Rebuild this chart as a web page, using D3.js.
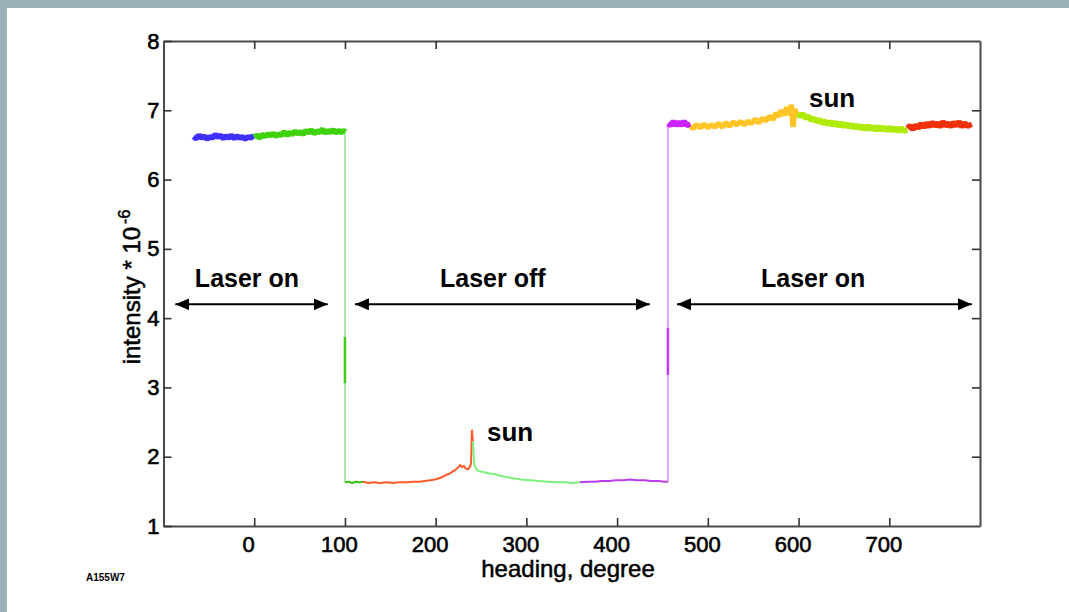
<!DOCTYPE html>
<html>
<head>
<meta charset="utf-8">
<script src="https://cdn.jsdelivr.net/npm/d3@7"></script>
<style>
  body { margin: 0; background: #fff; }
  svg { display: block; }
</style>
</head>
<body>
<div id="chart"></div>
<script>
const headingTicks = [0, 100, 200, 300, 400, 500, 600, 700];
const topHeadingTicks = [0, 100, 200, 500, 600, 700];
const intensityTicks = [1, 2, 3, 4, 5, 6, 7, 8];
const rightIntensityTicks = [2, 3, 4, 5, 6, 7];

// laser on, first part (heading, intensity)
const blueTrace = [[-67,6.62],[-64,6.59],[-61,6.64],[-58,6.60],[-55,6.63],[-52,6.58],[-49,6.62],[-46,6.60],[-43,6.65],[-40,6.61],[-37,6.64],[-34,6.59],[-31,6.63],[-28,6.60],[-25,6.64],[-22,6.59],[-19,6.63],[-16,6.60],[-13,6.62],[-10,6.58],[-7,6.62],[-4,6.60],[-1,6.63],[0,6.61]];
const greenTrace = [[0,6.61],[3,6.64],[6,6.60],[9,6.65],[12,6.62],[15,6.66],[18,6.63],[21,6.67],[24,6.62],[27,6.66],[30,6.64],[33,6.69],[36,6.64],[39,6.68],[42,6.65],[45,6.70],[48,6.66],[51,6.69],[54,6.65],[57,6.71],[60,6.67],[63,6.72],[66,6.66],[69,6.70],[72,6.68],[75,6.73],[78,6.67],[81,6.71],[84,6.68],[87,6.72],[90,6.67],[93,6.71],[96,6.68],[99,6.71],[100,6.69]];
const dropTrace = [[100,6.69],[100,1.63]];
const dropMark = [[100,3.73],[100,3.06]];

// laser off
const offGreenTrace = [[100,1.63],[104,1.64],[108,1.62],[112,1.64],[116,1.63],[120,1.64]];
const offRedTrace = [[120,1.64],[126,1.62],[132,1.63],[139,1.62],[146,1.63],[153,1.62],[160,1.63],[168,1.63],[175,1.64],[182,1.64],[188,1.65],[194,1.66],[199,1.67],[204,1.69],[208,1.71],[212,1.74],[216,1.76],[219,1.79],[222,1.81],[225,1.85],[227,1.88],[229,1.85],[231,1.87],[233,1.83],[236,1.82],[238,1.86],[239,1.91],[240,2.39],[241,2.22]];
const offLightGreenTrace = [[241,2.22],[242.5,1.88],[246,1.80],[252,1.78],[258,1.76],[264,1.75],[270,1.73],[277,1.71],[285,1.69],[294,1.67],[304,1.66],[314,1.65],[324,1.64],[333,1.63],[342,1.63],[350,1.62],[359,1.63]];
const offPurpleTrace = [[359,1.63],[367,1.64],[375,1.64],[383,1.65],[391,1.65],[399,1.66],[407,1.66],[414,1.67],[422,1.66],[430,1.66],[438,1.65],[446,1.65],[452,1.64],[456,1.64]];
const riseTrace = [[456,1.64],[456,6.81]];
const riseMark = [[456,3.86],[456,3.18]];

// laser on, second part
const purpleTrace = [[456,6.81],[459,6.78],[462,6.84],[465,6.78],[468,6.83],[471,6.78],[474,6.84],[477,6.78],[481,6.80]];
const orangeTrace = [[481,6.77],[484,6.74],[488,6.79],[492,6.75],[496,6.80],[500,6.75],[504,6.79],[508,6.76],[512,6.81],[516,6.76],[520,6.82],[524,6.77],[528,6.83],[532,6.79],[536,6.84],[540,6.79],[544,6.84],[548,6.81],[552,6.87],[556,6.82],[560,6.88],[564,6.85],[568,6.91],[572,6.87],[575,6.96],[578,6.91],[581,7.00],[584,6.93],[587,7.04],[590,6.94],[592,7.08],[594,6.76],[596,7.02],[598,6.93],[599,6.97]];
const limeTrace = [[599,6.95],[602,6.91],[605,6.95],[608,6.88],[611,6.92],[614,6.85],[617,6.89],[620,6.83],[623,6.87],[626,6.81],[629,6.85],[632,6.79],[635,6.84],[638,6.78],[641,6.83],[644,6.77],[647,6.82],[650,6.76],[653,6.81],[656,6.75],[659,6.80],[662,6.74],[665,6.79],[668,6.73],[671,6.78],[674,6.72],[677,6.78],[680,6.72],[683,6.77],[686,6.71],[689,6.77],[692,6.71],[695,6.76],[698,6.70],[701,6.76],[704,6.70],[707,6.75],[710,6.69],[713,6.75],[716,6.70],[720,6.72]];
const redTrace = [[720,6.74],[723,6.78],[726,6.72],[729,6.79],[732,6.74],[735,6.81],[738,6.75],[741,6.82],[744,6.76],[747,6.83],[750,6.77],[753,6.82],[756,6.76],[759,6.84],[762,6.77],[765,6.82],[768,6.76],[771,6.83],[774,6.77],[777,6.84],[780,6.76],[783,6.82],[786,6.77],[791,6.80]];

// annotations
const regionNames = ["Laser on", "Laser off", "Laser on"];
const regionSpans = [[-87, 81], [111, 436], [466, 791]];
const regionLabelHeadings = [-8, 263, 616];
const arrowIntensity = 4.2;
const regionLabelIntensity = 4.45;
const sunLabels = [[282, 2.22], [637, 7.05]];

const width = 1069;
const height = 612;
const font = "'Liberation Sans', Arial, Helvetica, sans-serif";

const x = d3.scaleLinear().domain([-100, 800]).range([163.5, 980]);
const y = d3.scaleLinear().domain([1, 8]).range([526, 41]);

const svg = d3.select("#chart")
    .append("svg")
    .attr("width", width)
    .attr("height", height)
    .attr("viewBox", [0, 0, width, height]);

// slide background + white panel
svg.append("rect").attr("width", width).attr("height", height).attr("fill", "#9cb0b9");
svg.append("rect").attr("x", 7).attr("y", 8).attr("width", width - 7).attr("height", height - 8).attr("fill", "#fff");

const line = d3.line().x((d) => x(d[0])).y((d) => y(d[1]));

const traces = [
    { data: dropTrace, color: "#a6e8a6", w: 2 },
    { data: dropMark, color: "#3fcc14", w: 2.5 },
    { data: riseTrace, color: "#e4a2ff", w: 2 },
    { data: riseMark, color: "#c43cf2", w: 2.5 },
    { data: blueTrace, color: "#4030ff", w: 5.5 },
    { data: greenTrace, color: "#3fd20c", w: 5.5 },
    { data: offGreenTrace, color: "#35c010", w: 2 },
    { data: offRedTrace, color: "#ff5a28", w: 2 },
    { data: offLightGreenTrace, color: "#7cf07c", w: 2 },
    { data: offPurpleTrace, color: "#bb3cf0", w: 2 },
    { data: purpleTrace, color: "#cc24ff", w: 5.5 },
    { data: orangeTrace, color: "#ffc426", w: 5.5 },
    { data: limeTrace, color: "#b0ea0a", w: 5.5 },
    { data: redTrace, color: "#f0300a", w: 5.5 }
];

svg.append("g")
    .selectAll("path")
    .data(traces)
    .join("path")
    .attr("d", (t) => line(t.data))
    .attr("fill", "none")
    .attr("stroke", (t) => t.color)
    .attr("stroke-width", (t) => t.w)
    .attr("stroke-linejoin", "bevel");

// axes (MATLAB style box with inside ticks)
const styleAxis = (g) => {
    g.select(".domain").attr("stroke", "#4a4a4a").attr("stroke-width", 2);
    g.selectAll(".tick line").attr("stroke", "#333").attr("stroke-width", 1.6);
    g.selectAll("text")
        .attr("fill", "#000")
        .attr("stroke", "#000")
        .attr("stroke-width", 0.6)
        .style("font-family", font)
        .style("font-size", "22px");
};

svg.append("g")
    .attr("transform", `translate(0,${y(1)})`)
    .call(d3.axisBottom(x).tickValues(headingTicks).tickSize(-8).tickSizeOuter(0).tickPadding(10))
    .call(styleAxis)
    .call((g) => g.selectAll("text").attr("dx", -6));

svg.append("g")
    .attr("transform", `translate(0,${y(8)})`)
    .call(d3.axisTop(x).tickValues(topHeadingTicks).tickSize(-8).tickSizeOuter(0).tickFormat(""))
    .call(styleAxis);

svg.append("g")
    .attr("transform", `translate(${x(-100)},0)`)
    .call(d3.axisLeft(y).tickValues(intensityTicks).tickFormat(d3.format("d")).tickSize(-8).tickSizeOuter(0).tickPadding(4))
    .call(styleAxis);

svg.append("g")
    .attr("transform", `translate(${x(800)},0)`)
    .call(d3.axisRight(y).tickValues(rightIntensityTicks).tickSize(-8).tickSizeOuter(0).tickFormat(""))
    .call(styleAxis);

// axis titles
svg.append("text")
    .attr("x", 568)
    .attr("y", 577)
    .attr("text-anchor", "middle")
    .attr("stroke", "#000")
    .attr("stroke-width", 0.5)
    .style("font-family", font)
    .style("font-size", "24px")
    .text("heading, degree");

const yTitle = svg.append("text")
    .attr("transform", "translate(140,287) rotate(-90)")
    .attr("text-anchor", "middle")
    .attr("stroke", "#000")
    .attr("stroke-width", 0.5)
    .style("font-family", font)
    .style("font-size", "24px");
yTitle.append("tspan").text("intensity * 10");
yTitle.append("tspan").attr("dy", -10).attr("dx", 3).style("font-size", "16px").text("-6");

svg.append("text")
    .attr("x", 86)
    .attr("y", 581)
    .style("font-family", font)
    .style("font-size", "10px")
    .style("font-weight", "bold")
    .text("A155W7");

// arrows
const defs = svg.append("defs");
defs.append("marker")
    .attr("id", "head")
    .attr("viewBox", "0 0 14 12")
    .attr("refX", 14)
    .attr("refY", 6)
    .attr("markerWidth", 14)
    .attr("markerHeight", 12)
    .attr("markerUnits", "userSpaceOnUse")
    .attr("orient", "auto-start-reverse")
    .append("path")
    .attr("d", "M0,0L14,6L0,12Z")
    .attr("fill", "#000");

svg.append("g")
    .selectAll("line")
    .data(regionSpans)
    .join("line")
    .attr("x1", (d) => x(d[0]))
    .attr("x2", (d) => x(d[1]))
    .attr("y1", y(arrowIntensity))
    .attr("y2", y(arrowIntensity))
    .attr("stroke", "#000")
    .attr("stroke-width", 2)
    .attr("marker-start", "url(#head)")
    .attr("marker-end", "url(#head)");

svg.append("g")
    .selectAll("text")
    .data(regionNames)
    .join("text")
    .attr("x", (d, i) => x(regionLabelHeadings[i]))
    .attr("y", y(regionLabelIntensity))
    .attr("text-anchor", "middle")
    .style("font-family", font)
    .style("font-size", "25px")
    .style("font-weight", "bold")
    .text((d) => d);

svg.append("g")
    .selectAll("text")
    .data(sunLabels)
    .join("text")
    .attr("x", (d) => x(d[0]))
    .attr("y", (d) => y(d[1]))
    .attr("text-anchor", "middle")
    .style("font-family", font)
    .style("font-size", "26px")
    .style("font-weight", "bold")
    .text("sun");
</script>
</body>
</html>
